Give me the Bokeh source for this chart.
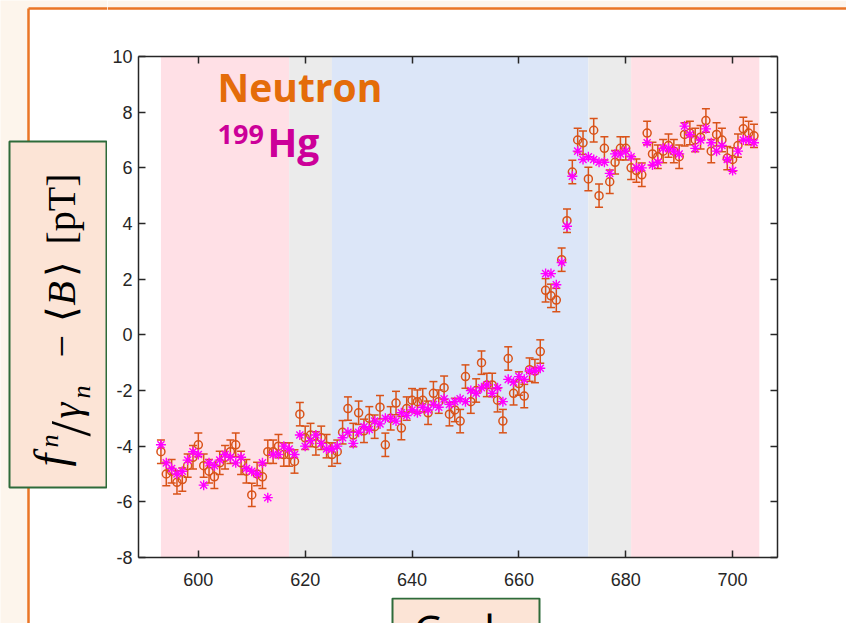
import math

from bokeh.embed import file_html
from bokeh.layouts import column, row
from bokeh.models import FixedTicker, Label, LinearAxis, Range1d
from bokeh.plotting import figure
from bokeh.resources import INLINE

# ---- data -------------------------------------------------------------
cycles = list(range(593, 705))

neutron = [
    -4.2, -5.0, -4.9, -5.3, -5.2, -4.7, -4.4, -3.95, -4.7, -4.9,      # 593-602
    -5.1, -4.6, -4.4, -4.2, -3.95, -4.6, -4.9, -5.75, -5.0, -5.1,     # 603-612
    -4.2, -4.2, -4.0, -4.3, -4.3, -4.55, -2.85, -3.7, -3.6, -3.9,     # 613-622
    -3.7, -4.0, -4.3, -4.2, -3.5, -2.65, -3.6, -2.8, -3.45, -3.0,     # 623-632
    -3.3, -2.6, -3.95, -3.0, -2.45, -3.35, -2.65, -2.35, -2.4, -2.35, # 633-642
    -2.8, -2.1, -2.4, -1.9, -2.85, -2.7, -3.1, -1.5, -2.4, -2.0,      # 643-652
    -1.0, -1.8, -1.8, -2.35, -3.1, -0.85, -2.1, -1.75, -2.2, -1.25,   # 653-662
    -1.3, -0.6, 1.6, 1.4, 1.25, 2.7, 4.1, 5.85, 7.0, 6.9,             # 663-672
    5.6, 7.35, 5.0, 6.7, 5.5, 6.2, 6.7, 6.7, 6.0, 5.9,                # 673-682
    5.75, 7.25, 6.5, 6.4, 6.6, 6.8, 6.6, 6.4, 7.2, 7.25,              # 683-692
    7.0, 7.1, 7.7, 6.6, 7.2, 7.0, 6.35, 6.3, 6.8, 7.4,                # 693-702
    7.25, 7.15,                                                       # 703-704
]
neutron_err = 0.42

mercury = [
    -3.95, -4.6, -4.8, -5.0, -4.9, -4.5, -4.2, -4.3, -5.4, -4.6,      # 593-602
    -4.7, -4.5, -4.3, -4.4, -4.6, -4.4, -4.8, -4.9, -5.0, -4.6,       # 603-612
    -5.85, -4.3, -4.3, -4.0, -4.1, -4.3, -3.6, -4.0, -3.8, -3.6,      # 613-622
    -3.9, -4.1, -4.1, -4.0, -3.7, -3.5, -3.9, -3.5, -3.3, -3.4,       # 623-632
    -3.1, -3.2, -3.0, -3.0, -3.1, -2.8, -2.9, -2.7, -2.8, -2.6,       # 633-642
    -2.7, -2.5, -2.6, -2.3, -2.5, -2.4, -2.3, -2.4, -2.0, -2.1,       # 643-652
    -1.9, -1.8, -2.1, -1.9, -2.4, -1.6, -1.7, -1.5, -1.6, -1.3,       # 653-662
    -1.3, -1.2, 2.2, 2.2, 1.8, 2.6, 3.9, 5.7, 6.6, 6.3,               # 663-672
    6.4, 6.3, 6.2, 6.2, 5.8, 6.5, 6.5, 6.6, 6.4, 6.0,                 # 673-682
    6.0, 6.9, 6.1, 6.2, 6.7, 6.7, 6.6, 6.5, 7.5, 7.2,                 # 683-692
    6.7, 7.0, 7.4, 6.9, 6.6, 6.8, 6.3, 5.9, 6.6, 7.0,                 # 693-702
    7.0, 6.9,                                                         # 703-704
]

# measurement phases shaded behind the points
band_left = [593, 617, 625, 673, 681]
band_right = [617, 625, 673, 681, 705]
band_color = ["#FFE0E6", "#EBEBEB", "#DCE6F8", "#EBEBEB", "#FFE0E6"]

x_ticks = [600, 620, 640, 660, 680, 700]
y_ticks = [-8, -6, -4, -2, 0, 2, 4, 6, 8, 10]

# ---- page geometry (pixels from the top-left of the page) -------------
W, H = 846, 623
LEFT_W = 107          # strip holding the y-title box
TOP_H = 30            # strip holding the slide's top rule
BOTTOM_H = 26         # strip holding the x-title box
RULE_X, RULE_Y = 28, 8
FL, FR, FT, FB = 138, 777, 56, 557      # data frame edges
X0, X1 = 588.8, 708.4
Y0, Y1 = -8.0, 10.0

ORANGE = "#D95319"
MAGENTA = "#FF00FF"
INK = "#262626"
BEIGE = "#FDF5EC"
RULE = "#EA7526"
PEACH = "#FCE4D6"
GREEN = "#2E6B3A"
BASE_SHIFT = 0.44     # baseline correction for labels, in em


def px2x(px):
    return X0 + (px - FL) * (X1 - X0) / (FR - FL)


def py2y(py):
    return Y1 - (py - FT) * (Y1 - Y0) / (FB - FT)


# ---- main data plot ---------------------------------------------------
main_h = H - TOP_H - BOTTOM_H
p = figure(
    width=W - LEFT_W, height=main_h,
    x_range=Range1d(X0, X1), y_range=Range1d(Y0, Y1),
    output_backend="svg", toolbar_location=None,
    min_border_left=FL - LEFT_W, min_border_right=W - FR,
    min_border_top=FT - TOP_H, min_border_bottom=(H - BOTTOM_H) - FB,
    background_fill_color="white", border_fill_color="white",
    outline_line_color=None, frame_align=False,
)
p.grid.visible = False


def style_axis(ax, ticks, labels=True):
    ax.ticker = FixedTicker(ticks=ticks)
    ax.axis_line_color = INK
    ax.axis_line_width = 1.5
    ax.major_tick_line_color = INK
    ax.major_tick_line_width = 1.5
    ax.major_tick_in = 7
    ax.major_tick_out = 0
    ax.minor_tick_line_color = None
    ax.major_label_text_font = "Liberation Sans"
    ax.major_label_text_font_size = "18px" if labels else "1px"
    ax.major_label_text_color = INK
    ax.major_label_overrides = {t: (str(t) if labels else "") for t in ticks}
    if not labels:
        ax.major_label_standoff = 0


style_axis(p.xaxis[0], x_ticks)
style_axis(p.yaxis[0], y_ticks)
p.xaxis[0].major_label_standoff = 15
p.yaxis[0].major_label_standoff = 6

top_axis = LinearAxis()
style_axis(top_axis, x_ticks, labels=False)
p.add_layout(top_axis, "above")
right_axis = LinearAxis()
style_axis(right_axis, y_ticks, labels=False)
p.add_layout(right_axis, "right")

# shaded phases
p.quad(left=band_left, right=band_right, bottom=Y0, top=Y1,
       fill_color=band_color, line_color=None)

# neutron points with error bars
lower = [v - neutron_err for v in neutron]
upper = [v + neutron_err for v in neutron]
p.segment(x0=cycles, y0=lower, x1=cycles, y1=upper, line_color=ORANGE, line_width=1.5)
p.scatter(cycles, upper, marker="dash", size=8, line_color=ORANGE, line_width=1.5)
p.scatter(cycles, lower, marker="dash", size=8, line_color=ORANGE, line_width=1.5)
p.scatter(cycles, neutron, marker="circle", size=8, fill_color=None,
          line_color=ORANGE, line_width=1.5)

# mercury co-magnetometer
p.scatter(cycles, mercury, marker="asterisk", size=10, line_color=MAGENTA, line_width=1.4)


def add_text(fig, x, y, text, size, color="black", font="Open Sans", style="normal",
             align="left", angle=0.0):
    fig.add_layout(Label(x=x, y=y, text=text, text_font=font, text_font_style=style,
                         text_font_size=f"{size}px", text_color=color,
                         text_align=align, text_baseline="alphabetic",
                         angle=angle, angle_units="rad"))


# in-plot legend text
add_text(p, px2x(217), py2y(103 - BASE_SHIFT * 39), "Neutron", 39, "#E46C0A", style="bold")
add_text(p, px2x(217), py2y(146 - BASE_SHIFT * 27), "199", 27, "#CC0099", style="bold")
add_text(p, px2x(267), py2y(158 - BASE_SHIFT * 39), "Hg", 39, "#CC0099", style="bold")


# ---- decoration strips around the plot (pixel coordinates) ------------
def strip(w, h, fill):
    f = figure(width=w, height=h, x_range=Range1d(0, w), y_range=Range1d(h, 0),
               output_backend="svg", toolbar_location=None, min_border=0,
               x_axis_location=None, y_axis_location=None, title=None,
               outline_line_color=None, background_fill_color=fill,
               border_fill_color=fill, frame_align=False)
    f.grid.visible = False
    return f


# left strip: slide margin, rule and the y-title box
left = strip(LEFT_W, H, BEIGE)
left.quad(left=[RULE_X], right=[LEFT_W], top=[RULE_Y], bottom=[H],
          fill_color="white", line_color=None)
left.segment(x0=[RULE_X, RULE_X], y0=[RULE_Y, RULE_Y], x1=[RULE_X, LEFT_W], y1=[H, RULE_Y],
             line_color=RULE, line_width=2.5)
left.quad(left=[9], right=[LEFT_W - 1], top=[141], bottom=[487],
          fill_color=PEACH, line_color=GREEN, line_width=2)

ylabel_parts = [
    # text, start (px along the page), baseline x, size, italic
    ("f", 466, 70, 46, True),
    ("n", 447, 60, 26, True),
    ("/", 436, 95, 56, False),
    ("\u03b3", 418, 84, 40, True),
    ("n", 398, 92, 26, True),
    ("\u2212", 357, 79, 40, False),
    ("\u27e8", 321, 79, 40, False),
    ("B", 305, 79, 40, True),
    ("\u27e9", 276, 79, 40, False),
    ("[pT]", 244, 79, 40, False),
]
for txt, ys, bx, size, italic in ylabel_parts:
    add_text(left, bx - BASE_SHIFT * size, ys, txt, size, font="Liberation Serif",
             style="italic" if italic else "normal", angle=math.pi / 2)

# top strip: slide rule above the plot
top = strip(W - LEFT_W, TOP_H, "white")
top.quad(left=[0], right=[W - LEFT_W], top=[0], bottom=[RULE_Y],
         fill_color=BEIGE, line_color=None)
top.segment(x0=[0], y0=[RULE_Y], x1=[W - LEFT_W], y1=[RULE_Y],
            line_color=RULE, line_width=2.5)

# bottom strip: x-title box running off the page
bottom = strip(W - LEFT_W, BOTTOM_H, "white")
bottom.quad(left=[392 - LEFT_W], right=[539 - LEFT_W], top=[1], bottom=[BOTTOM_H + 40],
            fill_color=PEACH, line_color=GREEN, line_width=2)
add_text(bottom, 466 - LEFT_W, 52 - BASE_SHIFT * 44, "Cycle", 44, align="center")

page = row(left, column(top, p, bottom, spacing=0), spacing=0)

open("out.html", "w").write(file_html(page, INLINE))
